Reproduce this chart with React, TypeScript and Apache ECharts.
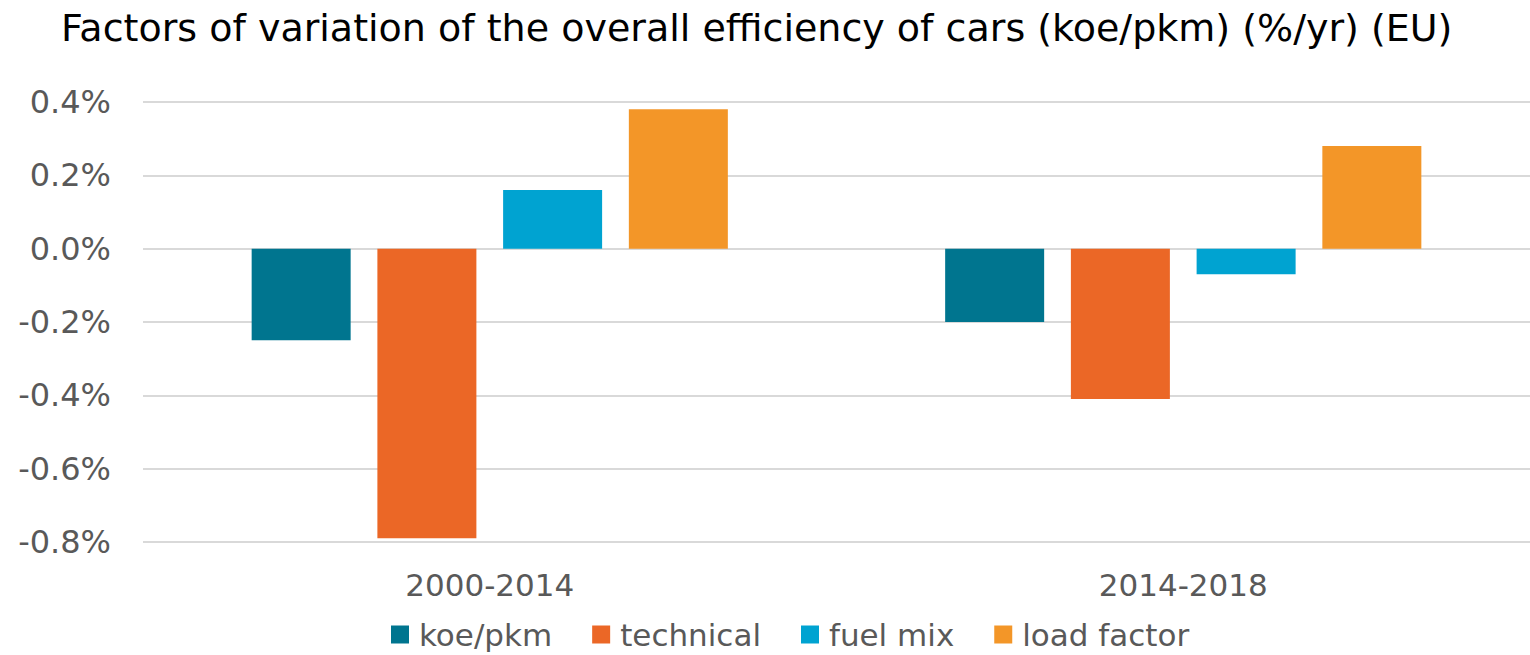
import React, { useEffect, useRef } from "react";
import * as echarts from "echarts";

const categories = ["2000-2014", "2014-2018"];
const seriesNames = ["koe/pkm", "technical", "fuel mix", "load factor"];
const koePkm = [-0.25, -0.2];
const technical = [-0.79, -0.41];
const fuelMix = [0.16, -0.07];
const loadFactor = [0.38, 0.28];
const colors = ["#00758F", "#EB6726", "#00A3D1", "#F39628"];

export default function App() {
  const ref = useRef<HTMLDivElement>(null);
  useEffect(() => {
    if (!ref.current) return;
    const chart = echarts.init(ref.current, undefined, { renderer: "svg" });
    const data = [koePkm, technical, fuelMix, loadFactor];
    chart.setOption({
      animation: false,
      title: {
        text: "Factors of variation of the overall efficiency of cars (koe/pkm) (%/yr) (EU)",
        left: 56,
        top: 4,
        textStyle: {
          fontFamily: "DejaVu Sans",
          fontSize: 38,
          fontWeight: "normal",
          color: "#000000",
        },
      },
      legend: {
        bottom: 0,
        left: 386,
        itemWidth: 18,
        itemHeight: 18,
        itemGap: 40,
        icon: "rect",
        textStyle: {
          fontFamily: "DejaVu Sans",
          fontSize: 31,
          color: "#595959",
          padding: [0, 0, 0, 5],
        },
        data: seriesNames,
      },
      grid: { left: 143, right: -4, top: 102, bottom: 113 },
      xAxis: {
        type: "category",
        data: categories,
        axisLine: { show: false },
        axisTick: { show: false },
        axisLabel: {
          fontFamily: "DejaVu Sans",
          fontSize: 31,
          color: "#595959",
          margin: 27,
        },
      },
      yAxis: {
        type: "value",
        min: -0.8,
        max: 0.4,
        interval: 0.2,
        axisLabel: {
          fontFamily: "DejaVu Sans",
          fontSize: 32,
          color: "#595959",
          margin: 32,
          formatter: (v: number) => v.toFixed(1) + "%",
        },
        splitLine: { lineStyle: { color: "#D9D9D9", width: 2 } },
      },
      series: seriesNames.map((name, i) => ({
        name,
        type: "bar",
        data: data[i],
        barWidth: 99,
        barGap: "27%",
        itemStyle: { color: colors[i] },
      })),
    });
    return () => chart.dispose();
  }, []);
  return (
    <div
      ref={ref}
      style={{ position: "fixed", left: 0, top: 0, width: 1530, height: 655, background: "#fff" }}
    />
  );
}
